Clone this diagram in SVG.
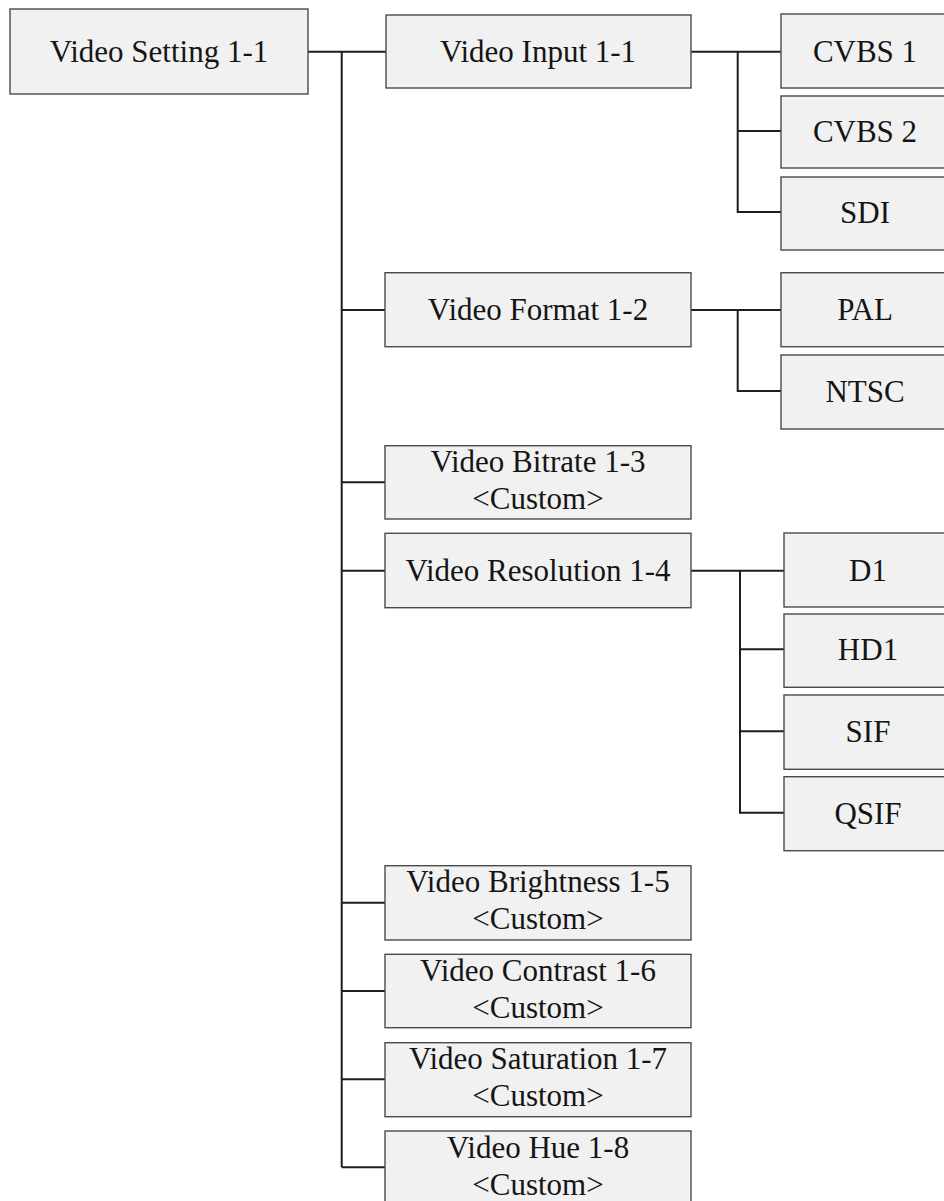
<svg xmlns="http://www.w3.org/2000/svg" width="944" height="1201" viewBox="0 0 944 1201">
  <style>
    .box { fill: #f1f1f1; stroke: #4a4a4a; stroke-width: 1.4; }
    .lbl { font-family: "Liberation Serif", "Times New Roman", serif; font-size: 31px; fill: #151515; text-anchor: middle; }
    .wire { fill: none; stroke: #1e1e1e; stroke-width: 2; }
  </style>
  <rect width="944" height="1201" fill="#ffffff"/>

  <!-- connectors -->
  <g id="connectors" class="wire">
    <!-- root to main trunk -->
    <path d="M308 51.7 H386"/>
    <path d="M341.7 51.7 V1167.3"/>
    <path d="M341.7 310 H385"/>
    <path d="M341.7 482.3 H385"/>
    <path d="M341.7 570.7 H385"/>
    <path d="M341.7 902.7 H385"/>
    <path d="M341.7 991 H385"/>
    <path d="M341.7 1079.3 H385"/>
    <path d="M341.7 1167.3 H385"/>
    <!-- video input options -->
    <path d="M691 51.7 H781"/>
    <path d="M737.7 51.7 V212 H781"/>
    <path d="M737.7 131 H781"/>
    <!-- video format options -->
    <path d="M691 310 H781"/>
    <path d="M737.7 310 V391 H781"/>
    <!-- resolution options -->
    <path d="M691 570.7 H784"/>
    <path d="M740 570.7 V812.7 H784"/>
    <path d="M740 649.3 H784"/>
    <path d="M740 731.3 H784"/>
  </g>

  <!-- root -->
  <g id="video-setting">
    <rect class="box" x="10" y="9" width="298" height="85"/>
    <text class="lbl" x="159" y="62">Video Setting 1-1</text>
  </g>

  <!-- main menu entries -->
  <g id="video-input">
    <rect class="box" x="386" y="15" width="305" height="73"/>
    <text class="lbl" x="538" y="62">Video Input 1-1</text>
  </g>
  <g id="video-format">
    <rect class="box" x="385" y="272.7" width="306" height="74"/>
    <text class="lbl" x="538" y="319.5">Video Format 1-2</text>
  </g>
  <g id="video-bitrate">
    <rect class="box" x="385" y="445.7" width="306" height="73.3"/>
    <text class="lbl" x="538" y="472">Video Bitrate 1-3</text>
    <text class="lbl" x="538" y="509">&lt;Custom&gt;</text>
  </g>
  <g id="video-resolution">
    <rect class="box" x="385" y="533.3" width="306" height="74.4"/>
    <text class="lbl" x="538" y="580.5">Video Resolution 1-4</text>
  </g>
  <g id="video-brightness">
    <rect class="box" x="385" y="865.7" width="306" height="74.3"/>
    <text class="lbl" x="538" y="892">Video Brightness 1-5</text>
    <text class="lbl" x="538" y="929">&lt;Custom&gt;</text>
  </g>
  <g id="video-contrast">
    <rect class="box" x="385" y="954.3" width="306" height="73.4"/>
    <text class="lbl" x="538" y="980.5">Video Contrast 1-6</text>
    <text class="lbl" x="538" y="1017.5">&lt;Custom&gt;</text>
  </g>
  <g id="video-saturation">
    <rect class="box" x="385" y="1042.7" width="306" height="74"/>
    <text class="lbl" x="538" y="1069">Video Saturation 1-7</text>
    <text class="lbl" x="538" y="1106">&lt;Custom&gt;</text>
  </g>
  <g id="video-hue">
    <rect class="box" x="385" y="1131" width="306" height="74"/>
    <text class="lbl" x="538" y="1157.5">Video Hue 1-8</text>
    <text class="lbl" x="538" y="1194.5">&lt;Custom&gt;</text>
  </g>

  <!-- input options -->
  <g id="cvbs-1">
    <rect class="box" x="781" y="14" width="168" height="74"/>
    <text class="lbl" x="865" y="62">CVBS 1</text>
  </g>
  <g id="cvbs-2">
    <rect class="box" x="781" y="96" width="168" height="72"/>
    <text class="lbl" x="865" y="142">CVBS 2</text>
  </g>
  <g id="sdi">
    <rect class="box" x="781" y="177" width="168" height="73"/>
    <text class="lbl" x="865" y="223">SDI</text>
  </g>

  <!-- format options -->
  <g id="pal">
    <rect class="box" x="781" y="272.7" width="168" height="74"/>
    <text class="lbl" x="865" y="320">PAL</text>
  </g>
  <g id="ntsc">
    <rect class="box" x="781" y="355" width="168" height="74"/>
    <text class="lbl" x="865" y="402">NTSC</text>
  </g>

  <!-- resolution options -->
  <g id="d1">
    <rect class="box" x="784" y="533" width="168" height="74"/>
    <text class="lbl" x="868" y="580.5">D1</text>
  </g>
  <g id="hd1">
    <rect class="box" x="784" y="614" width="168" height="73.3"/>
    <text class="lbl" x="868" y="660">HD1</text>
  </g>
  <g id="sif">
    <rect class="box" x="784" y="695" width="168" height="74.3"/>
    <text class="lbl" x="868" y="742">SIF</text>
  </g>
  <g id="qsif">
    <rect class="box" x="784" y="776.7" width="168" height="74"/>
    <text class="lbl" x="868" y="823.5">QSIF</text>
  </g>
</svg>
